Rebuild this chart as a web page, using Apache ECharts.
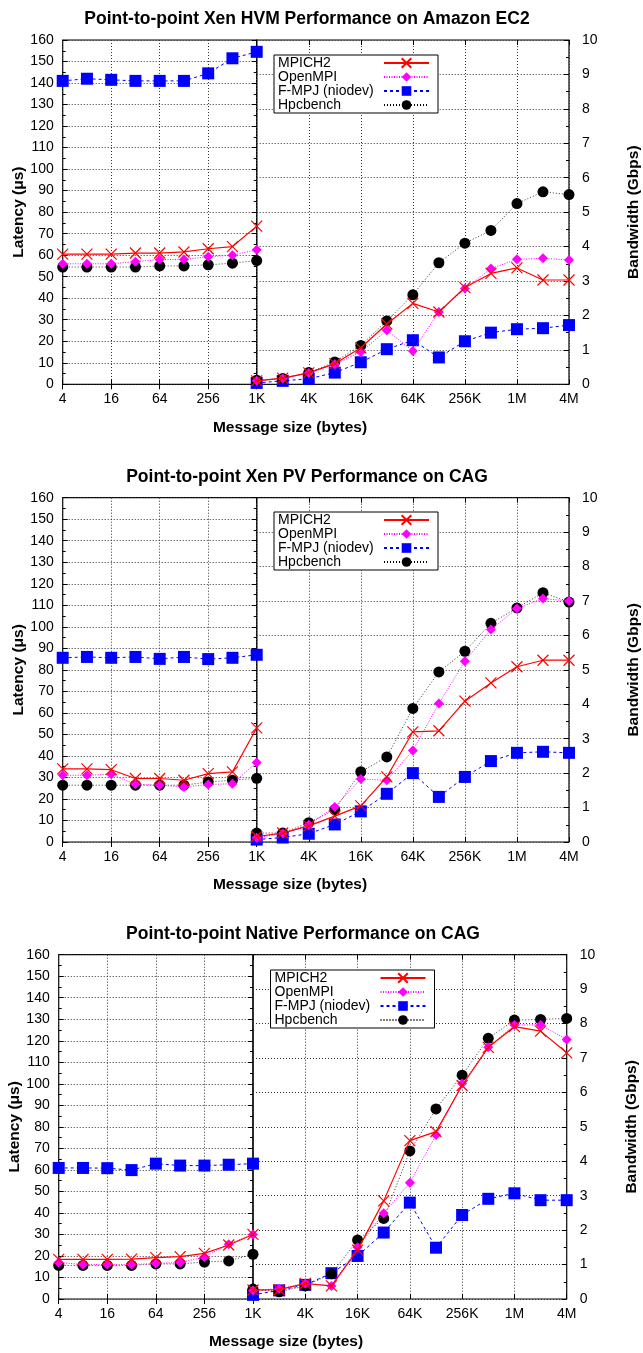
<!DOCTYPE html>
<html>
<head>
<meta charset="utf-8">
<script src="https://cdn.jsdelivr.net/npm/echarts@6/dist/echarts.min.js"></script>
<style>
  html, body { margin: 0; padding: 0; background: #fff; }
  #chart { width: 643px; height: 1353px; }
</style>
</head>
<body>
<div id="chart"></div>
<script>
// message sizes (bytes)
const sizesSmall = [4, 8, 16, 32, 64, 128, 256, 512, 1024]
const sizesLarge = [1024, 2048, 4096, 8192, 16384, 32768, 65536, 131072, 262144, 524288, 1048576, 2097152, 4194304]

const seriesNames = ['MPICH2', 'OpenMPI', 'F-MPJ (niodev)', 'Hpcbench']
const panelTitles = [
    'Point-to-point Xen HVM Performance on Amazon EC2',
    'Point-to-point Xen PV Performance on CAG',
    'Point-to-point Native Performance on CAG'
]

// Xen HVM on EC2 - latency (us) and bandwidth (Gbps)
const ec2LatMpich = [60.5, 60.5, 60.5, 61, 61, 61.5, 63, 64, 73.5]
const ec2LatOmpi = [56, 56, 56, 57, 58, 58, 59.3, 60, 62.5]
const ec2LatFmpj = [141, 142, 141.5, 141, 141, 141, 144.5, 151.5, 154.5]
const ec2LatHpc = [54.5, 54.5, 54.5, 54.5, 55, 55, 55.5, 56.3, 57.5]
const ec2BwMpich = [0.1, 0.18, 0.33, 0.6, 1.06, 1.75, 2.35, 2.1, 2.81, 3.22, 3.38, 3.03, 3.03]
const ec2BwOmpi = [0.1, 0.17, 0.33, 0.58, 0.94, 1.57, 0.97, 2.1, 2.78, 3.36, 3.63, 3.66, 3.61]
const ec2BwFmpj = [0.04, 0.1, 0.16, 0.34, 0.64, 1.02, 1.28, 0.78, 1.25, 1.5, 1.6, 1.63, 1.72]
const ec2BwHpc = [0.12, 0.17, 0.34, 0.65, 1.13, 1.84, 2.6, 3.53, 4.1, 4.47, 5.25, 5.59, 5.51]

// Xen PV on CAG
const pvLatMpich = [34, 34, 33.6, 29.5, 29.5, 28.7, 31.8, 32.6, 53]
const pvLatOmpi = [31, 31, 31.5, 26.8, 26.4, 25.6, 26.7, 27.1, 37]
const pvLatFmpj = [85.6, 86, 85.6, 86, 85.1, 86, 85, 85.6, 87]
const pvLatHpc = [26.4, 26.4, 26.4, 26.4, 26.4, 26.4, 27.9, 28.7, 29.6]
const pvBwMpich = [0.16, 0.26, 0.47, 0.75, 1.05, 1.89, 3.2, 3.23, 4.09, 4.62, 5.09, 5.28, 5.28]
const pvBwOmpi = [0.12, 0.25, 0.5, 1.02, 1.83, 1.79, 2.66, 4.02, 5.25, 6.17, 6.78, 7.07, 7.0]
const pvBwFmpj = [0.07, 0.13, 0.24, 0.51, 0.89, 1.4, 2.0, 1.31, 1.89, 2.35, 2.59, 2.62, 2.59]
const pvBwHpc = [0.26, 0.26, 0.56, 0.94, 2.04, 2.47, 3.88, 4.94, 5.54, 6.35, 6.8, 7.24, 6.97]

// Native on CAG
const natLatMpich = [18.4, 18.4, 18.4, 18.5, 19.2, 19.7, 21.2, 25.1, 30]
const natLatOmpi = [17, 16, 16, 16, 16.5, 17, 19.4, 25.5, 30]
const natLatFmpj = [60.9, 60.9, 60.8, 59.9, 62.9, 62, 62, 62.4, 62.9]
const natLatHpc = [15.6, 15.6, 15.6, 15.6, 16.3, 16.3, 17.2, 17.7, 20.8]
const natBwMpich = [0.26, 0.27, 0.45, 0.38, 1.42, 2.85, 4.6, 4.86, 6.2, 7.31, 7.91, 7.78, 7.15]
const natBwOmpi = [0.25, 0.3, 0.45, 0.38, 1.5, 2.49, 3.38, 4.76, 6.26, 7.31, 7.96, 7.96, 7.54]
const natBwFmpj = [0.12, 0.25, 0.41, 0.75, 1.25, 1.93, 2.8, 1.49, 2.44, 2.91, 3.07, 2.87, 2.87]
const natBwHpc = [0.29, 0.21, 0.38, 0.73, 1.71, 2.34, 4.3, 5.52, 6.5, 7.57, 8.1, 8.12, 8.15]

const panels = [
    { lat: [ec2LatMpich, ec2LatOmpi, ec2LatFmpj, ec2LatHpc], bw: [ec2BwMpich, ec2BwOmpi, ec2BwFmpj, ec2BwHpc] },
    { lat: [pvLatMpich, pvLatOmpi, pvLatFmpj, pvLatHpc], bw: [pvBwMpich, pvBwOmpi, pvBwFmpj, pvBwHpc] },
    { lat: [natLatMpich, natLatOmpi, natLatFmpj, natLatHpc], bw: [natBwMpich, natBwOmpi, natBwFmpj, natBwHpc] }
]

// plot boxes (px)
const layout = [
    { top: 40, left: 62.7, mid: 256.7, right: 570, legendX: 274, legendY: 55 },
    { top: 497.7, left: 62.7, mid: 256.7, right: 570, legendX: 274, legendY: 512 },
    { top: 954.7, left: 58.7, mid: 253, right: 566.7, legendX: 270.5, legendY: 970 }
]
const plotH = 344.3
const FONT = '"Liberation Sans", Arial, sans-serif'

// marker + line look per series (gnuplot style)
const styles = [
    { symbol: 'path://M0,0L10,10M10,0L0,10', size: 11, color: '#ff0000', line: { color: '#ff0000', width: 1.2, type: 'solid' }, border: 1.2, z: 5 },
    { symbol: 'diamond', size: 10, color: '#ff00ff', line: { color: '#ff00ff', width: 1, type: [1, 1.5] }, border: 0, z: 4 },
    { symbol: 'rect', size: 12, color: '#0000ff', line: { color: '#0000ff', width: 1, type: [3, 3] }, border: 0, z: 2 },
    { symbol: 'circle', size: 11, color: '#000000', line: { color: '#000000', width: 0.8, type: [1, 2] }, border: 0, z: 3 }
]

function sizeLabel(v) {
    if (v >= 1048576) return Math.round(v / 1048576) + 'M'
    if (v >= 1024) return Math.round(v / 1024) + 'K'
    return String(Math.round(v))
}

const gridLine = { show: true, lineStyle: { color: '#333', width: 1, type: [1, 2] } }
const tickIn = { show: true, inside: true, length: 5, lineStyle: { color: '#000', width: 1 } }
const minorIn = { show: true, splitNumber: 2, length: 3, lineStyle: { color: '#000', width: 1 } }
const labelStyle = { fontFamily: FONT, fontSize: 14, color: '#000' }
const nameStyle = { fontFamily: FONT, fontSize: 15.5, fontWeight: 'bold', color: '#000' }

const grid = [], xAxis = [], yAxis = [], series = [], legend = [], graphic = []

layout.forEach((L, p) => {
    const gl = grid.length
    grid.push({ left: L.left, top: L.top, width: L.mid - L.left, height: plotH, show: true, borderColor: '#000', borderWidth: 1.2, backgroundColor: 'transparent' })
    grid.push({ left: L.mid, top: L.top, width: L.right - L.mid, height: plotH, show: true, borderColor: '#000', borderWidth: 1.2, backgroundColor: 'transparent' })

    const xi = xAxis.length
    // latency plot x (4 .. 1K)
    xAxis.push({
        type: 'log', logBase: 4, min: 4, max: 1024, gridIndex: gl,
        axisLine: { show: false }, axisTick: tickIn, splitLine: gridLine,
        axisLabel: Object.assign({ margin: 8, showMaxLabel: false, formatter: sizeLabel }, labelStyle)
    })
    xAxis.push({
        type: 'log', logBase: 4, min: 4, max: 1024, gridIndex: gl, position: 'top',
        axisLine: { show: false }, axisTick: tickIn, splitLine: { show: false }, axisLabel: { show: false }
    })
    // bandwidth plot x (1K .. 4M)
    xAxis.push({
        type: 'log', logBase: 4, min: 1024, max: 4194304, gridIndex: gl + 1,
        axisLine: { show: false }, axisTick: tickIn, splitLine: gridLine,
        axisLabel: Object.assign({ margin: 8, formatter: sizeLabel }, labelStyle)
    })
    xAxis.push({
        type: 'log', logBase: 4, min: 1024, max: 4194304, gridIndex: gl + 1, position: 'top',
        axisLine: { show: false }, axisTick: tickIn, splitLine: { show: false }, axisLabel: { show: false }
    })

    const yi = yAxis.length
    yAxis.push({
        type: 'value', min: 0, max: 160, interval: 10, gridIndex: gl, position: 'left',
        name: 'Latency (\u03bcs)', nameLocation: 'middle', nameRotate: 90, nameGap: 30,
        nameTextStyle: nameStyle,
        axisLine: { show: false }, axisTick: tickIn, minorTick: minorIn, splitLine: gridLine,
        axisLabel: Object.assign({ margin: 9 }, labelStyle)
    })
    yAxis.push({
        type: 'value', min: 0, max: 160, interval: 10, gridIndex: gl, position: 'right',
        axisLine: { show: false }, axisTick: tickIn, minorTick: minorIn, splitLine: { show: false }, axisLabel: { show: false }
    })
    yAxis.push({
        type: 'value', min: 0, max: 10, interval: 1, gridIndex: gl + 1, position: 'right',
        name: 'Bandwidth (Gbps)', nameLocation: 'middle', nameRotate: 90, nameGap: 57,
        nameTextStyle: nameStyle,
        axisLine: { show: false }, axisTick: tickIn, minorTick: minorIn, splitLine: gridLine,
        axisLabel: Object.assign({ margin: 13 }, labelStyle)
    })

    const data = panels[p]
    seriesNames.forEach((name, k) => {
        const st = styles[k]
        const common = {
            name: name, type: 'line', symbol: st.symbol, symbolSize: st.size, clip: false, z: st.z,
            lineStyle: st.line,
            itemStyle: { color: st.color, borderColor: st.color, borderWidth: st.border },
            emphasis: { disabled: true }, animation: false
        }
        series.push(Object.assign({}, common, {
            xAxisIndex: xi, yAxisIndex: yi,
            data: sizesSmall.map((s, i) => [s, data.lat[k][i]])
        }))
        series.push(Object.assign({}, common, {
            xAxisIndex: xi + 2, yAxisIndex: yi + 2,
            data: sizesLarge.map((s, i) => [s, data.bw[k][i]])
        }))
    })

    // gnuplot-like key: text on the left, sample on the right
    legend.push({
        data: seriesNames, orient: 'vertical', align: 'right', selectedMode: false,
        left: L.legendX, top: L.legendY, padding: [1, 8, 1, 4],
        itemWidth: 45, itemHeight: 12, itemGap: 0,
        borderColor: '#000', borderWidth: 1, borderRadius: 0, backgroundColor: '#fff',
        formatter: name => '{t|' + name + '}',
        textStyle: {
            fontFamily: FONT, fontSize: 14, color: '#000',
            rich: { t: { fontFamily: FONT, fontSize: 14, color: '#000', width: 101, align: 'left', height: 13, lineHeight: 13 } }
        }
    })

    const dx = L.left - 62.7
    graphic.push({
        type: 'text', x: 307 + dx, y: L.top - 21, z: 10,
        style: { text: panelTitles[p], font: 'bold 17.5px ' + FONT, fill: '#000', align: 'center', verticalAlign: 'middle' }
    })
    graphic.push({
        type: 'text', x: 290 + dx, y: L.top + plotH + 43, z: 10,
        style: { text: 'Message size (bytes)', font: 'bold 15.5px ' + FONT, fill: '#000', align: 'center', verticalAlign: 'middle' }
    })
})

const myChart = echarts.init(document.getElementById('chart'), null, { renderer: 'canvas' })
myChart.setOption({
    backgroundColor: '#fff',
    animation: false,
    grid: grid,
    xAxis: xAxis,
    yAxis: yAxis,
    legend: legend,
    series: series,
    graphic: graphic
})
</script>
</body>
</html>
